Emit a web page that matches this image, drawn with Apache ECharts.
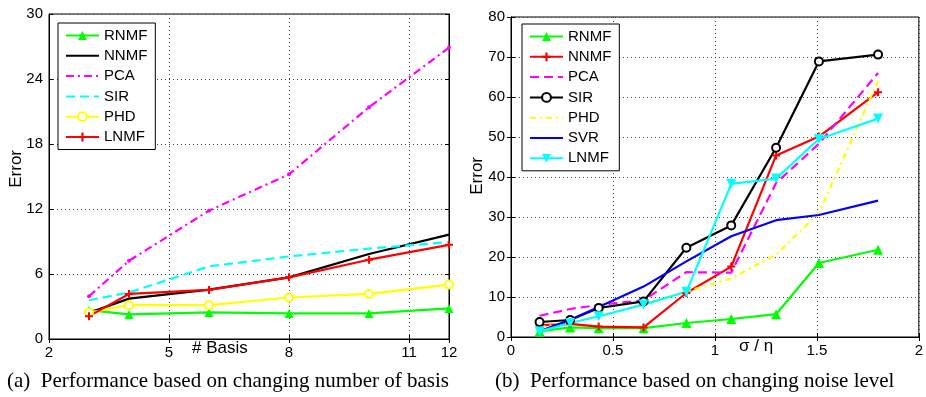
<!DOCTYPE html>
<html>
<head>
<meta charset="utf-8">
<script src="https://cdn.jsdelivr.net/npm/echarts@6/dist/echarts.min.js"></script>
<style>
html, body { margin: 0; padding: 0; background: #fff; }
#main { width: 926px; height: 397px; }
</style>
</head>
<body>
<div id="main"></div>
<script>
// (a) number of basis
var basisX = [3, 4, 6, 8, 10, 12];
var a_rnmf = [2.66, 2.27, 2.45, 2.36, 2.36, 2.82];
var a_nnmf = [2.42, 3.73, 4.56, 5.69, 7.85, 9.64];
var a_pca = [3.95, 7.22, 11.85, 15.2, 21.4, 26.9];
var a_sir = [3.58, 4.29, 6.7, 7.62, 8.35, 8.94];
var a_phd = [2.45, 3.12, 3.12, 3.83, 4.16, 5.02];
var a_lnmf = [2.11, 4.16, 4.53, 5.69, 7.32, 8.69];

// (b) noise level
var noiseX = [0.14, 0.29, 0.43, 0.65, 0.86, 1.08, 1.30, 1.51, 1.80];
var b_rnmf = [1.4, 2.4, 2.2, 2.2, 3.5, 4.5, 5.7, 18.5, 21.8];
var b_nnmf = [2.9, 3.3, 2.6, 2.4, 11, 17.6, 45.4, 50.1, 61.2];
var b_pca = [5.3, 7, 8, 9.2, 16.2, 16.1, 38.5, 48.3, 66];
var b_sir = [3.75, 4.25, 7.25, 8.9, 22.3, 27.9, 47.3, 68.9, 70.6];
var b_phd = [2.5, 3.5, 5, 8.2, 11.4, 14.6, 20.6, 31, 64];
var b_svr = [1.4, 4.3, 7.5, 12.6, 18.9, 25.2, 29.2, 30.5, 34.1];
var b_lnmf = [1.4, 3.5, 5.2, 8.1, 11.3, 38.3, 39.6, 49.5, 54.6];

var legendA = ["a:RNMF", "a:NNMF", "a:PCA", "a:SIR", "a:PHD", "a:LNMF"];
var legendB = ["b:RNMF", "b:NNMF", "b:PCA", "b:SIR", "b:PHD", "b:SVR", "b:LNMF"];
// series drawn without markers -> legend shows line only
var noMarker = ["a:NNMF", "a:PCA", "a:SIR", "b:PCA", "b:PHD", "b:SVR"];

var plusPath = 'path://M-1,-4H1V-1H4V1H1V4H-1V1H-4V-1H-1Z';

function pairs(xs, ys) {
	var out = [];
	for(var i = 0; i < xs.length; i++) {
		out.push([xs[i], ys[i]]);
	}
	return out;
}

function line(name, idx, xs, ys, color, type, symbol, size) {
	return {
		name: name,
		type: 'line',
		xAxisIndex: idx,
		yAxisIndex: idx,
		data: pairs(xs, ys),
		symbol: symbol || 'none',
		symbolSize: size || 8,
		showSymbol: symbol ? true : false,
		lineStyle: { color: color, width: 2.2, type: type || 'solid' },
		itemStyle: { color: color },
		animation: false
	};
}

var gridLine = { show: true, lineStyle: { color: '#444', width: 1, type: [1, 3] } };

function mainAxis(idx, pos, min, max, interval) {
	return {
		type: 'value', gridIndex: idx, position: pos,
		min: min, max: max, interval: interval,
		axisLine: { show: true, lineStyle: { color: '#000', width: 1 } },
		axisTick: { show: true, inside: true, length: 4, lineStyle: { color: '#000' } },
		axisLabel: { show: true, margin: 6, color: '#000', fontSize: 15, fontFamily: 'Liberation Sans' },
		splitLine: gridLine
	};
}

function ghostAxis(idx, pos, min, max, interval) {
	return {
		type: 'value', gridIndex: idx, position: pos,
		min: min, max: max, interval: interval,
		axisLine: { show: true, lineStyle: { color: '#000', width: 1 } },
		axisTick: { show: true, inside: true, length: 4, lineStyle: { color: '#000' } },
		axisLabel: { show: false },
		splitLine: { show: false }
	};
}

function legendBox(left, top, names) {
	var data = [];
	for(var i = 0; i < names.length; i++) {
		if(noMarker.indexOf(names[i]) > -1) {
			data.push({ name: names[i], itemStyle: { opacity: 0 } });
		} else {
			data.push({ name: names[i] });
		}
	}
	return {
		orient: 'vertical',
		left: left,
		top: top,
		data: data,
		formatter: function(n) { return n.slice(2); },
		backgroundColor: '#fff',
		borderColor: '#000',
		borderWidth: 1,
		borderRadius: 0,
		padding: [5, 8, 5, 7],
		itemWidth: 33,
		itemHeight: 11,
		itemGap: 5.3,
		textStyle: { color: '#000', fontSize: 15, fontFamily: 'Liberation Sans' }
	};
}

var myChart = echarts.init(document.getElementById('main'), null, { renderer: 'canvas' });
var option = {
	backgroundColor: '#fff',
	animation: false,
	grid: [
		{ left: 49, top: 14, width: 400, height: 325, show: true, borderColor: '#000', borderWidth: 1, backgroundColor: '#fff' },
		{ left: 511, top: 17, width: 411, height: 320, show: true, borderColor: '#000', borderWidth: 1, backgroundColor: '#fff' }
	],
	xAxis: [
		mainAxis(0, 'bottom', 2, 12, 3),
		mainAxis(1, 'bottom', 0, 2, 0.5),
		ghostAxis(0, 'top', 2, 12, 3),
		ghostAxis(1, 'top', 0, 2, 0.5)
	],
	yAxis: [
		mainAxis(0, 'left', 0, 30, 6),
		mainAxis(1, 'left', 0, 80, 10),
		ghostAxis(0, 'right', 0, 30, 6),
		ghostAxis(1, 'right', 0, 80, 10)
	],
	legend: [legendBox(58, 23, legendA), legendBox(522, 24, legendB)],
	series: [
		line('a:RNMF', 0, basisX, a_rnmf, '#00ff00', 'solid', 'triangle', 9),
		line('a:NNMF', 0, basisX, a_nnmf, '#000000', 'solid'),
		line('a:PCA', 0, basisX, a_pca, '#ff00ff', [8, 4, 2, 4], 'circle', 4),
		line('a:SIR', 0, basisX, a_sir, '#00ffff', [9, 5]),
		line('a:PHD', 0, basisX, a_phd, '#ffff00', 'solid', 'emptyCircle', 8),
		line('a:LNMF', 0, basisX, a_lnmf, '#ff0000', 'solid', plusPath, 8),

		line('b:RNMF', 1, noiseX, b_rnmf, '#00ff00', 'solid', 'triangle', 10),
		line('b:NNMF', 1, noiseX, b_nnmf, '#ff0000', 'solid', plusPath, 8),
		line('b:PCA', 1, noiseX, b_pca, '#ff00ff', [9, 5]),
		line('b:SIR', 1, noiseX, b_sir, '#000000', 'solid', 'emptyCircle', 8),
		line('b:PHD', 1, noiseX, b_phd, '#ffff00', [6, 4, 2, 4]),
		line('b:SVR', 1, noiseX, b_svr, '#0000ff', 'solid'),
		line('b:LNMF', 1, noiseX, b_lnmf, '#00ffff', 'solid', 'triangle', 10)
	],
	graphic: [
		{ type: 'text', left: 8, top: 150, rotation: Math.PI / 2, style: { text: 'Error', font: '17px "Liberation Sans"', fill: '#000' } },
		{ type: 'text', left: 192, top: 340, style: { text: '# Basis', font: '17px "Liberation Sans"', fill: '#000' } },
		{ type: 'text', left: 469, top: 157, rotation: Math.PI / 2, style: { text: 'Error', font: '17px "Liberation Sans"', fill: '#000' } },
		{ type: 'text', left: 739, top: 338, style: { text: 'σ / η', font: '17px "Liberation Sans"', fill: '#000' } },
		{ type: 'text', left: 7, top: 371, style: { text: '(a)  Performance based on changing number of basis', font: '21px "Liberation Serif"', fill: '#000' } },
		{ type: 'text', left: 495, top: 371, style: { text: '(b)  Performance based on changing noise level', font: '21px "Liberation Serif"', fill: '#000' } }
	]
};
// inverted triangles for LNMF in (b)
option.series[12].symbolRotate = 180;
myChart.setOption(option);
</script>
</body>
</html>
